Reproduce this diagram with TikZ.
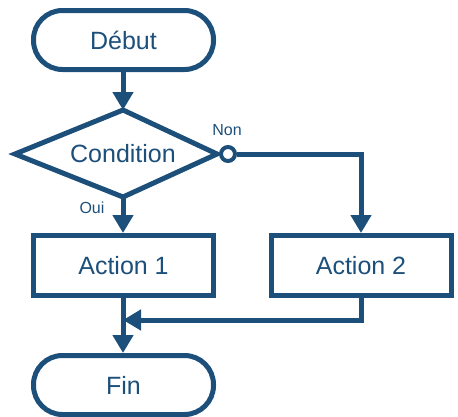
\documentclass[tikz,border=0pt]{standalone}
\usepackage{fontspec}
\setmainfont{Liberation Sans}
\usetikzlibrary{arrows.meta}
\definecolor{fcblue}{RGB}{28,79,122}
\begin{document}
\begin{tikzpicture}[x=1pt,y=-1pt,
  line width=5pt, draw=fcblue,
  term/.style={draw=fcblue, line width=5pt, rectangle, rounded corners=29pt, minimum width=180pt, minimum height=59pt, inner sep=0pt, text=fcblue, font=\fontsize{25}{30}\selectfont},
  proc/.style={draw=fcblue, line width=5pt, rectangle, minimum width=180pt, minimum height=60pt, inner sep=0pt, text=fcblue, font=\fontsize{25}{30}\selectfont},
  lbl/.style={text=fcblue, font=\fontsize{16}{19}\selectfont, inner sep=0pt},
  flow/.style={draw=fcblue, line width=5pt, -{Triangle[width=20pt,length=18pt]}},
  port/.style={circle, draw=fcblue, fill=white, line width=4pt, minimum size=14pt, inner sep=0pt}
]
\useasboundingbox (0,0) rectangle (458,416);
\node[term] (debut) at (123.5,40) {Début};
\coordinate (dl) at (15,154);
\coordinate (dt) at (123,110);
\coordinate (dr) at (217,154);
\coordinate (db) at (123,197);
\draw[fcblue, line width=5pt, line join=miter] (dl) -- (dt) -- (dr) -- (db) -- cycle;
\node[text=fcblue, font=\fontsize{25}{30}\selectfont] (cond) at (123,154) {Condition};
\node[proc] (a1) at (123.5,265.5) {Action 1};
\node[proc] (a2) at (361,265.5) {Action 2};
\node[term] (fin) at (123.5,385) {Fin};
\node[port] (nc) at (228,154) {};
\node[lbl] (non) at (227,130) {Non};
\node[lbl] (oui) at (92,208) {Oui};
\coordinate (m) at (123,320);
\draw[flow] (debut.south -| dt) -- (dt);
\draw[flow] (db) -- (db |- a1.north);
\draw[flow] (nc.east) -| (a2.north);
\draw[flow] (a2.south) |- (m);
\draw[flow] (a1.south -| m) -- (fin.north -| m);
\end{tikzpicture}
\end{document}
